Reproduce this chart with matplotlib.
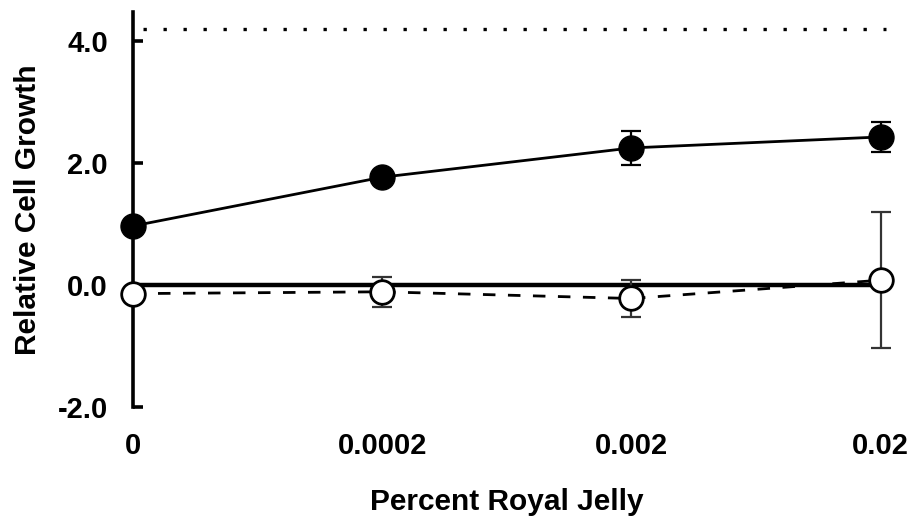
import matplotlib
matplotlib.use('Agg')
import matplotlib.pyplot as plt

# Relative cell growth vs royal jelly concentration
doses = ['0', '0.0002', '0.002', '0.02']
xpos = [0, 1, 2, 3]

# filled circles (with stimulus)
growth_a = [0.97, 1.77, 2.25, 2.43]
err_a = [0.0, 0.0, 0.28, 0.24]

# open circles (without stimulus)
growth_b = [-0.14, -0.11, -0.22, 0.08]
err_b = [0.0, 0.25, 0.30, 1.12]

ref_level = 4.2

plt.rcParams['font.family'] = ['Liberation Sans', 'DejaVu Sans']
plt.rcParams['font.weight'] = 'bold'

fig = plt.figure(figsize=(9.17, 5.2), dpi=100)
ax = fig.add_axes([133/917, 113/520, 760/917, 395/520])

ax.plot([0, 3.02], [ref_level, ref_level], color='black', lw=2.4,
        linestyle=(3, (1, 5)), zorder=2, clip_on=False)
ax.plot([0, 3], [0, 0], color='black', lw=3.2, zorder=2, solid_capstyle='butt')

ax.errorbar(xpos, growth_a, yerr=err_a, color='black', lw=2, marker='o',
            ms=18, mfc='black', mec='black', ecolor='black', elinewidth=1.6,
            capsize=7, capthick=1.6, zorder=4, clip_on=False)

ax.errorbar(xpos, growth_b, yerr=err_b, fmt='none', ecolor='#333333',
            elinewidth=1.6, capsize=7, capthick=1.6, zorder=3)
ax.plot(xpos, growth_b, color='black', lw=2, linestyle=(0, (4.5, 4.5)), zorder=3)
ax.plot(xpos, growth_b, linestyle='none', marker='o', ms=17, mfc='white',
        mec='black', mew=2, zorder=5, clip_on=False)

ax.set_xlim(0, 3.05)
ax.set_ylim(-2.0, 4.48)

for s in ['top', 'right', 'bottom']:
    ax.spines[s].set_visible(False)
ax.spines['left'].set_linewidth(2.6)
ax.spines['left'].set_bounds(-2.0, 4.48)

ax.set_yticks([-2.0, 0.0, 2.0, 4.0])
ax.set_yticklabels(['-2.0', '0.0', '2.0', '4.0'])
ax.tick_params(axis='y', direction='in', length=7, width=2.6, pad=18,
               labelsize=21)
ax.set_xticks(xpos)
ax.set_xticklabels(doses)
ax.tick_params(axis='x', length=0, pad=18, labelsize=21)

ax.set_ylabel('Relative Cell Growth', fontsize=21.5, fontweight='bold')
ax.set_xlabel('Percent Royal Jelly', fontsize=21.5, fontweight='bold')
ax.xaxis.set_label_coords(1.5/3.05, -0.205)
ax.yaxis.set_label_coords(-0.12, 0.5)

fig.savefig('out.png', dpi=100)
